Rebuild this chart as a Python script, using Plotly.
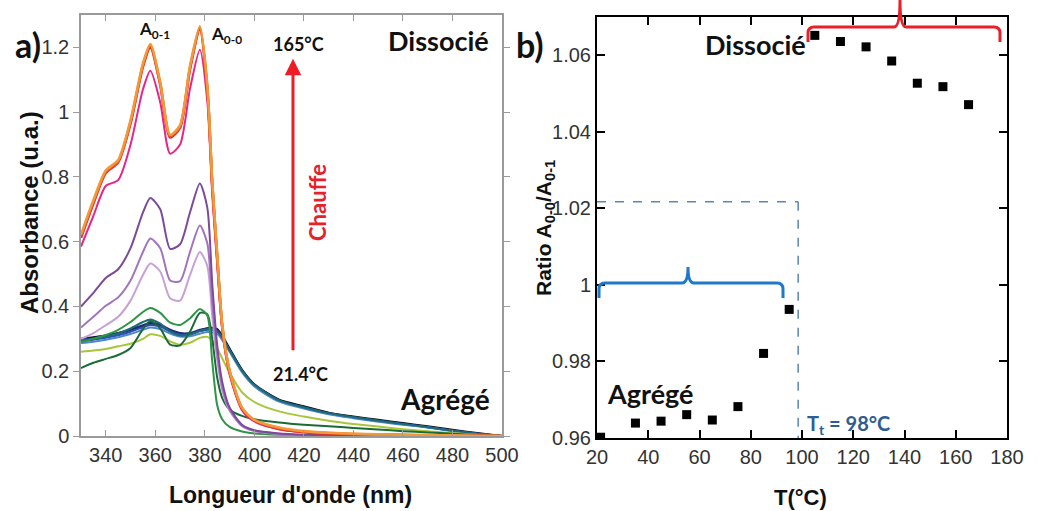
import plotly.graph_objects as go

# ---------------- Data ----------------
wavelength = [330, 335, 340, 345, 350, 355, 358, 362, 366, 370, 374, 378, 381, 383,
              385, 387, 390, 395, 400, 410, 420, 430, 440, 450, 460, 470, 480, 490, 500]

spec_21 = [0.300, 0.305, 0.310, 0.318, 0.328, 0.340, 0.346, 0.340, 0.325, 0.316, 0.316, 0.326, 0.333, 0.334,
           0.330, 0.310, 0.270, 0.205, 0.160, 0.112, 0.092, 0.072, 0.060, 0.050, 0.040, 0.030, 0.019, 0.009, 0.000]
spec_35 = [0.298, 0.303, 0.309, 0.317, 0.328, 0.342, 0.350, 0.344, 0.328, 0.318, 0.318, 0.328, 0.332, 0.331,
           0.326, 0.306, 0.267, 0.203, 0.158, 0.111, 0.090, 0.071, 0.059, 0.048, 0.038, 0.028, 0.017, 0.007, 0.000]
spec_45 = [0.292, 0.297, 0.303, 0.311, 0.322, 0.336, 0.343, 0.338, 0.323, 0.313, 0.314, 0.323, 0.328, 0.327,
           0.322, 0.302, 0.264, 0.200, 0.156, 0.109, 0.087, 0.069, 0.057, 0.046, 0.036, 0.027, 0.016, 0.007, 0.000]
spec_55 = [0.287, 0.291, 0.297, 0.305, 0.315, 0.328, 0.335, 0.330, 0.316, 0.307, 0.308, 0.316, 0.321, 0.320,
           0.316, 0.297, 0.260, 0.197, 0.153, 0.106, 0.085, 0.067, 0.055, 0.044, 0.035, 0.026, 0.015, 0.006, 0.000]
spec_65 = [0.295, 0.300, 0.307, 0.317, 0.332, 0.352, 0.360, 0.347, 0.322, 0.310, 0.313, 0.325, 0.330, 0.329,
           0.324, 0.304, 0.265, 0.202, 0.158, 0.110, 0.088, 0.070, 0.058, 0.047, 0.037, 0.027, 0.016, 0.007, 0.000]
spec_75 = [0.260, 0.264, 0.269, 0.277, 0.285, 0.300, 0.314, 0.309, 0.292, 0.282, 0.288, 0.303, 0.306, 0.294,
           0.270, 0.240, 0.195, 0.135, 0.105, 0.076, 0.060, 0.047, 0.037, 0.029, 0.021, 0.015, 0.009, 0.004, 0.000]
spec_85 = [0.210, 0.226, 0.238, 0.250, 0.272, 0.330, 0.355, 0.332, 0.282, 0.280, 0.322, 0.380, 0.376, 0.300,
           0.180, 0.118, 0.082, 0.062, 0.052, 0.042, 0.035, 0.030, 0.025, 0.020, 0.015, 0.011, 0.007, 0.003, 0.000]
spec_95 = [0.290, 0.300, 0.312, 0.328, 0.352, 0.383, 0.395, 0.380, 0.350, 0.343, 0.363, 0.392, 0.372, 0.230,
           0.095, 0.052, 0.028, 0.014, 0.008, 0.004, 0.002, 0.001, 0.001, 0.001, 0.000, 0.000, 0.000, 0.000, 0.000]
spec_105 = [0.300, 0.318, 0.342, 0.368, 0.418, 0.497, 0.533, 0.508, 0.425, 0.418, 0.497, 0.568, 0.525, 0.370,
            0.235, 0.142, 0.078, 0.030, 0.015, 0.006, 0.003, 0.002, 0.001, 0.001, 0.000, 0.000, 0.000, 0.000, 0.000]
spec_115 = [0.335, 0.368, 0.402, 0.428, 0.480, 0.568, 0.610, 0.580, 0.480, 0.478, 0.568, 0.650, 0.595, 0.410,
            0.255, 0.152, 0.082, 0.032, 0.016, 0.007, 0.003, 0.002, 0.001, 0.001, 0.000, 0.000, 0.000, 0.000, 0.000]
spec_125 = [0.400, 0.442, 0.488, 0.515, 0.580, 0.690, 0.735, 0.700, 0.578, 0.592, 0.690, 0.780, 0.705, 0.470,
            0.280, 0.168, 0.088, 0.035, 0.018, 0.008, 0.004, 0.002, 0.001, 0.001, 0.000, 0.000, 0.000, 0.000, 0.000]
spec_135 = [0.585, 0.680, 0.772, 0.790, 0.900, 1.070, 1.128, 1.030, 0.872, 0.900, 1.072, 1.193, 1.035, 0.745,
            0.530, 0.330, 0.190, 0.080, 0.045, 0.021, 0.012, 0.008, 0.005, 0.004, 0.003, 0.002, 0.001, 0.001, 0.000]
spec_145 = [0.612, 0.718, 0.812, 0.845, 0.965, 1.140, 1.200, 1.085, 0.922, 0.952, 1.132, 1.255, 1.070, 0.775,
            0.550, 0.340, 0.198, 0.084, 0.048, 0.022, 0.012, 0.007, 0.005, 0.004, 0.003, 0.002, 0.001, 0.001, 0.000]
spec_155 = [0.617, 0.723, 0.816, 0.848, 0.970, 1.145, 1.205, 1.088, 0.926, 0.956, 1.137, 1.260, 1.076, 0.780,
            0.555, 0.343, 0.200, 0.086, 0.049, 0.024, 0.013, 0.009, 0.006, 0.004, 0.003, 0.002, 0.001, 0.001, 0.000]
spec_165 = [0.622, 0.728, 0.820, 0.852, 0.975, 1.150, 1.210, 1.092, 0.930, 0.960, 1.142, 1.265, 1.082, 0.785,
            0.560, 0.345, 0.202, 0.088, 0.050, 0.026, 0.015, 0.010, 0.007, 0.005, 0.004, 0.003, 0.002, 0.001, 0.000]

spectra = [
    ("21.4", spec_21, "#111111"),
    ("35", spec_35, "#1f2a7a"),
    ("45", spec_45, "#2c4fb5"),
    ("55", spec_55, "#4f86d0"),
    ("65", spec_65, "#1d6b74"),
    ("75", spec_75, "#a9c53a"),
    ("85", spec_85, "#1a6b38"),
    ("95", spec_95, "#2e9446"),
    ("105", spec_105, "#c7a0d6"),
    ("115", spec_115, "#a374bd"),
    ("125", spec_125, "#7b4a9a"),
    ("135", spec_135, "#e6248a"),
    ("145", spec_145, "#e0282c"),
    ("155", spec_155, "#e8542a"),
    ("165", spec_165, "#f29a3a"),
]

temperature = [21.4, 35, 45, 55, 65, 75, 85, 95, 105, 115, 125, 135, 145, 155, 165]
ratio = [0.9602, 0.9639, 0.9644, 0.9661, 0.9647, 0.9682, 0.9821, 0.9936,
         1.0652, 1.0636, 1.0622, 1.0585, 1.0527, 1.0518, 1.0471]

transition_T = 98.5
transition_R = 1.0217

W, H = 1038, 511


def P(px, py):
    return px / W, 1 - py / H


fig = go.Figure()

for name, vals, col in spectra:
    fig.add_trace(go.Scatter(
        x=wavelength, y=vals, mode="lines", name=name + " °C",
        line=dict(color=col, width=2.6 if float(name) >= 145 else 2.0,
                  shape="spline", smoothing=0.7),
        xaxis="x", yaxis="y", showlegend=False))

fig.add_trace(go.Scatter(
    x=temperature, y=ratio, mode="markers",
    marker=dict(symbol="square", size=9, color="black"),
    xaxis="x2", yaxis="y2", showlegend=False))

TICKFONT = dict(family="Liberation Sans, Arial", size=20, color="#333333")

fig.update_layout(
    width=W, height=H,
    margin=dict(l=0, r=0, t=0, b=0, autoexpand=False),
    paper_bgcolor="white", plot_bgcolor="white",
    xaxis=dict(domain=[81 / W, 502 / W], range=[330, 500], tick0=340, dtick=20, automargin=False,
               showgrid=False, zeroline=False, showline=True, linecolor="#9a9a9a", linewidth=1.5,
               mirror="ticks", ticks="inside", ticklen=6, tickcolor="#9a9a9a",
               tickfont=TICKFONT, anchor="y"),
    yaxis=dict(domain=[1 - 436 / H, 1 - 15 / H], range=[0, 1.3], tick0=0, dtick=0.2, automargin=False,
               showgrid=False, zeroline=False, showline=True, linecolor="#9a9a9a", linewidth=1.5,
               mirror="ticks", ticks="outside", ticklen=6, tickcolor="#9a9a9a",
               tickfont=TICKFONT, anchor="x"),
    xaxis2=dict(domain=[597 / W, 1007 / W], range=[20, 180], tick0=20, dtick=20, automargin=False,
                showgrid=False, zeroline=False, showline=True, linecolor="black", linewidth=2,
                mirror="ticks", ticks="inside", ticklen=8, tickcolor="black", tickwidth=1.5,
                tickfont=TICKFONT, anchor="y2"),
    yaxis2=dict(domain=[1 - 438 / H, 1 - 17 / H], range=[0.96, 1.07], tick0=0.96, dtick=0.02, automargin=False,
                showgrid=False, zeroline=False, showline=True, linecolor="black", linewidth=2,
                mirror="ticks", ticks="inside", ticklen=8, tickcolor="black", tickwidth=1.5,
                tickfont=TICKFONT, anchor="x2"),
)

BOLD = "Lato"
ARIALB = "Liberation Sans, Arial"
anns = []


def txt(text, px, py, size, family=BOLD, color="#111111", angle=0, xanchor="center"):
    x, y = P(px, py)
    anns.append(dict(text="<b>" + text + "</b>", x=x, y=y, xref="paper", yref="paper",
                     showarrow=False, xanchor=xanchor, yanchor="middle", textangle=angle,
                     font=dict(family=family, size=size, color=color)))


txt("a)", 28, 44, 34)
txt("b)", 530, 45, 34)
txt("A<sub>0-1</sub>", 154, 30, 17)
txt("A<sub>0-0</sub>", 226, 35, 17)
txt("165°C", 298, 44, 18)
txt("21.4°C", 300, 374, 18)
txt("Dissocié", 438, 40, 27)
txt("Agrégé", 445, 399, 28)
txt("Chauffe", 317, 203, 22, color="#e8202a", angle=-90)
txt("Dissocié", 755, 45, 27)
txt("Agrégé", 650, 393, 27)
txt("T<sub>t</sub> = 98°C", 848, 424, 20, color="#2c5d95")
txt("Longueur d'onde (nm)", 290, 495, 23, family=ARIALB)
txt("Absorbance (u.a.)", 30, 213, 24, family=ARIALB, angle=-90)
txt("T(°C)", 800, 497, 22, family=ARIALB)
txt("Ratio A<sub>0-0</sub>/A<sub>0-1</sub>", 545, 228, 21, family=ARIALB, angle=-90)

# heating arrow
anns.append(dict(x=415.6, y=1.165, ax=415.6, ay=0.26, xref="x", yref="y", axref="x", ayref="y",
                 showarrow=True, arrowhead=2, arrowsize=1.1, arrowwidth=3, arrowcolor="#ee1c25", text=""))

fig.update_layout(annotations=anns)

# dashed transition lines
dash_col = "#5a86b8"
fig.add_shape(type="line", xref="x2", yref="y2", x0=20, x1=transition_T, y0=transition_R, y1=transition_R,
              line=dict(color=dash_col, width=1.5, dash="dash"))
fig.add_shape(type="line", xref="x2", yref="y2", x0=transition_T, x1=transition_T, y0=transition_R, y1=0.96,
              line=dict(color=dash_col, width=1.5, dash="dash"))


# brackets (paper coords via pixel positions)
def bracket(x0, x1, xc, ybar, yhook, ytip, color):
    ax0, ay = P(x0, ybar)
    ax1 = x1 / W
    axc = xc / W
    yh = 1 - yhook / H
    yt = 1 - ytip / H
    r = 6 / W
    ry = 6 / H
    path = (f"M {ax0},{yh} L {ax0},{ay - ry} Q {ax0},{ay} {ax0 + r},{ay} "
            f"L {axc - r},{ay} Q {axc},{ay} {axc},{yt} Q {axc},{ay} {axc + r},{ay} "
            f"L {ax1 - r},{ay} Q {ax1},{ay} {ax1},{ay - ry} L {ax1},{yh}")
    fig.add_shape(type="path", xref="paper", yref="paper", path=path,
                  line=dict(color=color, width=3))


bracket(808, 1000, 900, 27, 42, 0, "#e8202a")
bracket(599, 783, 688, 283, 298, 267, "#1f78c8")

fig.write_html("out.html", config={"displayModeBar": False},
               post_script="document.body.style.margin='0';document.body.style.overflow='hidden';")
